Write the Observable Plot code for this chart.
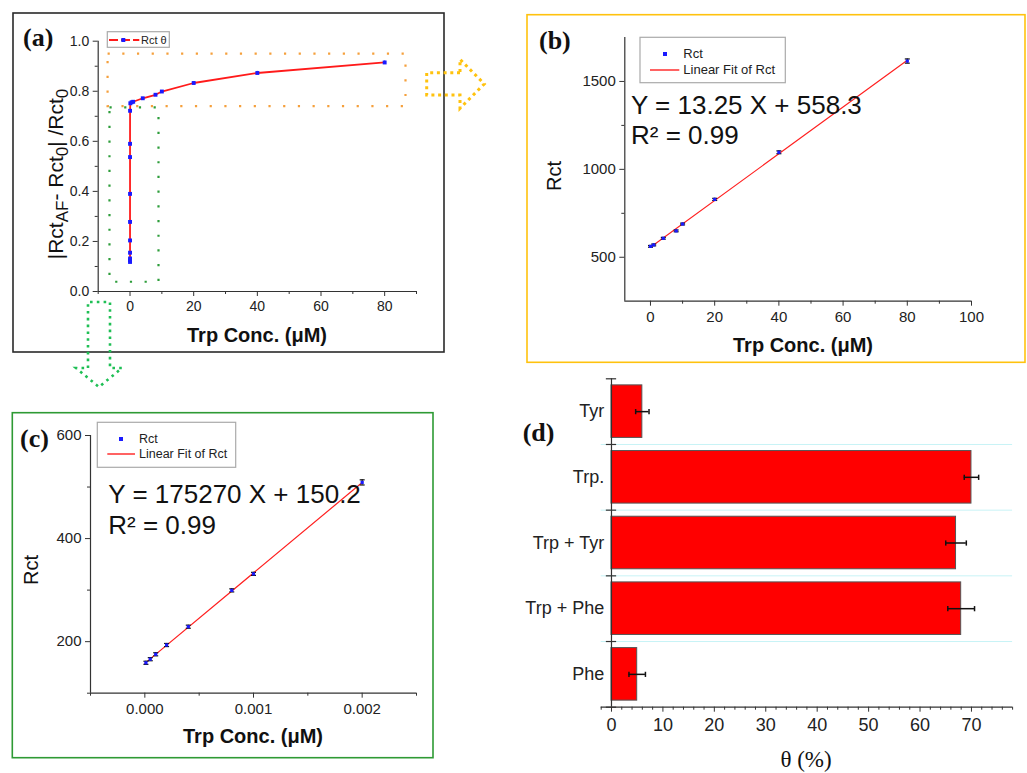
<!DOCTYPE html>
<html><head><meta charset="utf-8">
<script src="https://cdn.jsdelivr.net/npm/d3@7"></script>
<script src="https://cdn.jsdelivr.net/npm/@observablehq/plot@0.6"></script>
<style>
html,body{margin:0;padding:0;background:#fff;}
#root{position:relative;width:1027px;height:773px;overflow:hidden;font-family:"Liberation Sans",Arial,sans-serif;}
#root svg{position:absolute;}
</style></head><body><div id="root"></div>
<script>
// ---------- Panel (a): theta vs Trp concentration ----------
const aConc  = [0.00001,0.00002,0.00005,0.0001,0.0002,0.0004,0.0008,0.001,0.002,0.01,0.1,0.5,1,4,8,10,20,40,80];
const aTheta = [0.118,0.125,0.132,0.155,0.204,0.278,0.39,0.537,0.59,0.722,0.752,0.756,0.758,0.772,0.786,0.799,0.833,0.873,0.915];
const aErr   = [0.003,0.003,0.003,0.003,0.003,0.003,0.003,0.003,0.003,0.003,0.003,0.003,0.003,0.003,0.004,0.004,0.005,0.007,0.008];
const aXTicks = [0,20,40,60,80];
const aXMinor = [-10,10,30,50,70,90];
const aYTicks = [0,0.2,0.4,0.6,0.8,1.0];
const aYMinor = [0.1,0.3,0.5,0.7,0.9];
// zoom-region annotations (data coordinates)
const aOrangeBox = {x1:-6.9, x2:86.7, y1:0.739, y2:0.948};
const aGreenBox  = {x1:-6.3, x2:9.1,  y1:0.037, y2:0.734};

// ---------- Panel (b): Rct vs Trp (0-80 µM) ----------
const bConc = [0,1,4,8,10,20,40,80];
const bRct  = [562,570,608,650,689,829,1097,1616];
const bErr  = [5,5,5,5,5,6,8,12];
const bEquation = "Y = 13.25 X + 558.3";
const bR2 = "R² = 0.99";
const bXTicks = [0,20,40,60,80,100];
const bXMinor = [10,30,50,70,90];
const bYTicks = [500,1000,1500];
const bYMinor = [750,1250];

// ---------- Panel (c): Rct vs Trp (low conc.) ----------
const cConc = [0.00001,0.00005,0.0001,0.0002,0.0004,0.0008,0.001,0.002];
const cRct  = [159,166,175.5,193.5,229,299.5,331.5,509];
const cErr  = [3,3,3,3,3,3,3,5];
const cEquation = "Y = 175270 X + 150.2";
const cR2 = "R² = 0.99";
const cXTicks = [0,0.001,0.002];
const cXMinor = [-0.0005,0.0005,0.0015,0.0025];
const cYTicks = [200,400,600];
const cYMinor = [100,300,500];

// ---------- Panel (d): selectivity ----------
const dCats = ["Tyr","Trp.","Trp + Tyr","Trp + Phe","Phe"];
const dVals = [6,70,67,68,5];
const dErr  = [1.3,1.4,2.0,2.6,1.6];
const dXTicks = [0,10,20,30,40,50,60,70];
const dXMinor = d3.range(-2,80,2).filter(v => v % 10 !== 0);

// ---------- helpers ----------
const root = document.getElementById("root");
const FONT = "'Liberation Sans', Arial, sans-serif";
const SERIF = "'Liberation Serif', 'Times New Roman', serif";
const AX = "#333";
const hCap = {draw(ctx, size){const r=Math.sqrt(size/Math.PI); ctx.moveTo(-r,0); ctx.lineTo(r,0);}};
const vCap = {draw(ctx, size){const r=Math.sqrt(size/Math.PI); ctx.moveTo(0,-r); ctx.lineTo(0,r);}};
const baseStyle = {fontFamily: FONT, color: "#222", background: "transparent", overflow: "visible"};

// least-squares linear fit of the data ("Linear Fit of Rct")
function linFit(xs, ys) {
  const mx = d3.mean(xs), my = d3.mean(ys);
  const sxy = d3.sum(xs, (x,i) => (x-mx)*(ys[i]-my));
  const sxx = d3.sum(xs, x => (x-mx)*(x-mx));
  const k = sxy/sxx, b = my - k*mx;
  const ext = d3.extent(xs);
  return [{x: Math.min(0, ext[0]), y: k*Math.min(0, ext[0]) + b}, {x: ext[1], y: k*ext[1] + b}];
}

function linAxes(xd, yd, xT, xM, yT, yM, xf, yf, fs) {
  return [
    Plot.ruleX([xd[0]], {stroke: AX, strokeWidth: 1.2}),
    Plot.ruleY([yd[0]], {stroke: AX, strokeWidth: 1.2}),
    Plot.axisX({ticks: xT, tickSize: 5, tickPadding: 5, tickFormat: xf, fontSize: fs, label: null, stroke: AX}),
    Plot.axisX({ticks: xM, tickSize: 3, tickFormat: () => "", label: null, stroke: AX}),
    Plot.axisY({ticks: yT, tickSize: 5, tickPadding: 4, tickFormat: yf, fontSize: fs, label: null, stroke: AX}),
    Plot.axisY({ticks: yM, tickSize: 3, tickFormat: () => "", label: null, stroke: AX})
  ];
}
function place(svg, left, top) { svg.style.left = left + "px"; svg.style.top = top + "px"; root.appendChild(svg); }

// ---------- (a) ----------
const aData = aConc.map((x,i) => ({x, y: aTheta[i], e: aErr[i]}));
place(Plot.plot({
  width: 431, height: 339, marginLeft: 84.7, marginRight: 28, marginTop: 27.7, marginBottom: 61,
  x: {domain: [-10, 90]}, y: {domain: [0, 1]}, style: baseStyle,
  marks: [
    Plot.rect([aOrangeBox], {x1:"x1", x2:"x2", y1:"y1", y2:"y2", fill:"none", stroke:"#f5a03c", strokeWidth:2.2, strokeDasharray:"2.2,12.5"}),
    Plot.rect([aGreenBox], {x1:"x1", x2:"x2", y1:"y1", y2:"y2", fill:"none", stroke:"#2d9d3a", strokeWidth:2.2, strokeDasharray:"2.2,12.5"}),
    ...linAxes([-10,90],[0,1],aXTicks,aXMinor,aYTicks,aYMinor,d3.format("d"),d3.format(".1f"),14),
    Plot.ruleX(aData, {x:"x", y1: d=>d.y-d.e, y2: d=>d.y+d.e, stroke:"#8fa2ff", strokeWidth:1.2}),
    Plot.line(aData, {x:"x", y:"y", stroke:"#ff1a1a", strokeWidth:1.8}),
    Plot.dot(aData, {x:"x", y:"y", symbol:"square", r:2.2, fill:"#1a1aff"})
  ]
}), 13, 13);

// ---------- (b) ----------
const bData = bConc.map((x,i) => ({x, y: bRct[i], e: bErr[i]}));
const bFit = linFit(bConc, bRct);
place(Plot.plot({
  width: 498, height: 347, marginLeft: 97.3, marginRight: 54, marginTop: 22, marginBottom: 61.3,
  x: {domain: [-8, 100]}, y: {domain: [250, 1750]}, style: baseStyle,
  marks: [
    ...linAxes([-8,100],[250,1750],bXTicks,bXMinor,bYTicks,bYMinor,d3.format("d"),d3.format("d"),15),
    Plot.line(bFit, {x:"x", y:"y", stroke:"#ff2020", strokeWidth:1.2}),
    Plot.ruleX(bData, {x:"x", y1: d=>d.y-d.e, y2: d=>d.y+d.e, stroke:"#111", strokeWidth:1.2}),
    Plot.dot(bData, {x:"x", y: d=>d.y+d.e, symbol:hCap, r:2.5, fill:"none", stroke:"#111", strokeWidth:1.2}),
    Plot.dot(bData, {x:"x", y: d=>d.y-d.e, symbol:hCap, r:2.5, fill:"none", stroke:"#111", strokeWidth:1.2}),
    Plot.dot(bData, {x:"x", y:"y", symbol:"square", r:1.8, fill:"#1a1aff"})
  ]
}), 527, 15);

// ---------- (c) ----------
const cData = cConc.map((x,i) => ({x, y: cRct[i], e: cErr[i]}));
const cFit = linFit(cConc, cRct);
place(Plot.plot({
  width: 421, height: 345, marginLeft: 78, marginRight: 17, marginTop: 22, marginBottom: 65.3,
  x: {domain: [-0.0005, 0.0025]}, y: {domain: [100, 600]}, style: baseStyle,
  marks: [
    ...linAxes([-0.0005,0.0025],[100,600],cXTicks,cXMinor,cYTicks,cYMinor,d3.format(".3f"),d3.format("d"),15),
    Plot.line(cFit, {x:"x", y:"y", stroke:"#ff2020", strokeWidth:1.2}),
    Plot.ruleX(cData, {x:"x", y1: d=>d.y-d.e, y2: d=>d.y+d.e, stroke:"#111", strokeWidth:1.2}),
    Plot.dot(cData, {x:"x", y: d=>d.y+d.e, symbol:hCap, r:2.5, fill:"none", stroke:"#111", strokeWidth:1.2}),
    Plot.dot(cData, {x:"x", y: d=>d.y-d.e, symbol:hCap, r:2.5, fill:"none", stroke:"#111", strokeWidth:1.2}),
    Plot.dot(cData, {x:"x", y:"y", symbol:"square", r:1.8, fill:"#1a1aff"})
  ]
}), 12, 413);

// ---------- (d) ----------
const dData = dCats.map((c,i) => ({i, c, v: dVals[i], e: dErr[i]}));
const dBounds = d3.range(dCats.length + 1).map(k => k - 0.5);
place(Plot.plot({
  width: 522, height: 403, marginLeft: 95.7, marginRight: 14.9, marginTop: 8.3, marginBottom: 66.3,
  x: {domain: [-2, 78]}, y: {domain: [dCats.length - 0.5, -0.5]}, style: baseStyle,
  marks: [
    Plot.ruleY(dBounds.slice(1, -1), {stroke:"#c8f3f6", strokeWidth:1}),
    Plot.rect(dData, {x1: () => 0, x2:"v", y1: d=>d.i-0.4, y2: d=>d.i+0.4, fill:"#ff0000", stroke:"#555", strokeWidth:1}),
    Plot.ruleY(dData, {y:"i", x1: d=>d.v-d.e, x2: d=>d.v+d.e, stroke:"#111", strokeWidth:1.5}),
    Plot.dot(dData, {x: d=>d.v-d.e, y:"i", symbol:vCap, r:2.6, fill:"none", stroke:"#111", strokeWidth:1.5}),
    Plot.dot(dData, {x: d=>d.v+d.e, y:"i", symbol:vCap, r:2.6, fill:"none", stroke:"#111", strokeWidth:1.5}),
    Plot.ruleX([0], {stroke: AX, strokeWidth: 1.2}),
    Plot.ruleY([dCats.length - 0.5], {stroke: AX, strokeWidth: 1.2}),
    Plot.ruleY(dBounds, {x1: -1, x2: 1, stroke: AX, strokeWidth: 1.2}),
    Plot.axisX({ticks: dXTicks, tickSize: 5, tickPadding: 6, tickFormat: d3.format("d"), fontSize: 18, label: null, stroke: AX}),
    Plot.axisX({ticks: dXMinor, tickSize: 3, tickFormat: () => "", label: null, stroke: AX}),
    Plot.axisY({ticks: d3.range(dCats.length), tickSize: 0, tickPadding: 5, dx: 8, tickFormat: i => dCats[i], fontSize: 18, label: null})
  ]
}), 505, 370);

// ---------- overlay: frames, arrows, titles, legends, equations ----------
const ov = d3.create("svg").attr("width", 1027).attr("height", 773)
  .style("left", "0px").style("top", "0px").style("pointer-events", "none");

function box(x, y, w, h, stroke) {
  ov.append("rect").attr("x", x).attr("y", y).attr("width", w).attr("height", h)
    .attr("fill", "none").attr("stroke", stroke).attr("stroke-width", 1.6);
}
box(13, 13, 431, 339, "#2a2a2a");
box(527, 14.7, 498, 347.6, "#ffc20e");
box(12.3, 412.7, 420.7, 345, "#2e9a34");

ov.append("path").attr("d", "M88,368 L88,302 L110,302 L110,368 L122,368 L99,387 L76,368 Z")
  .attr("fill", "none").attr("stroke", "#1fbf55").attr("stroke-width", 2.6).attr("stroke-dasharray", "2.6,4.2");
ov.append("path").attr("d", "M460,72.7 L426.7,72.7 L426.7,95 L460,95 L460,108.3 L484.3,84 L460,59.3 Z")
  .attr("fill", "none").attr("stroke", "#ffc20e").attr("stroke-width", 3).attr("stroke-dasharray", "3,3.7");

function txt(x, y, s, o = {}) {
  const t = ov.append("text").attr("x", x).attr("y", y).text(s)
    .attr("font-family", o.family || FONT).attr("font-size", o.size || 14)
    .attr("font-weight", o.weight || "normal").attr("fill", o.fill || "#111")
    .attr("text-anchor", o.anchor || "start");
  if (o.rotate) t.attr("transform", `rotate(${o.rotate},${x},${y})`);
  return t;
}
// panel letters
txt(23, 46, "(a)", {family: SERIF, size: 26, weight: "bold"});
txt(539, 48.5, "(b)", {family: SERIF, size: 26, weight: "bold"});
txt(20, 447, "(c)", {family: SERIF, size: 26, weight: "bold"});
txt(522.7, 441, "(d)", {family: SERIF, size: 26, weight: "bold"});

// axis titles
txt(257, 342, "Trp Conc. (μM)", {size: 20, weight: "bold", anchor: "middle"});
txt(803, 352, "Trp Conc. (μM)", {size: 20, weight: "bold", anchor: "middle"});
txt(253, 743, "Trp Conc. (μM)", {size: 20, weight: "bold", anchor: "middle"});
txt(806, 767, "θ (%)", {family: SERIF, size: 23, anchor: "middle"});
txt(561, 176, "Rct", {size: 20, anchor: "middle", rotate: -90});
txt(38, 570, "Rct", {size: 20, anchor: "middle", rotate: -90});

// (a) y title with subscripts
{
  const t = ov.append("text").attr("x", 0).attr("y", 0)
    .attr("transform", "translate(63,174) rotate(-90)")
    .attr("font-family", FONT).attr("font-size", 21).attr("fill", "#111").attr("text-anchor", "middle");
  const parts = [["|Rct",0],["AF",1],["- Rct",0],["0",1],["| /Rct",0],["0",1]];
  let prev = 0;
  parts.forEach(([s, sub]) => {
    const dy = (sub ? 5 : 0) - prev; prev = sub ? 5 : 0;
    t.append("tspan").attr("dy", dy).attr("font-size", sub ? 17 : 21).text(s);
  });
}

// equations
txt(631, 114.3, bEquation, {size: 26});
txt(631, 143.5, bR2, {size: 26});
txt(108.3, 502.7, cEquation, {size: 26});
txt(108.3, 534, cR2, {size: 26});

// legends
function legend2(x, y, w, h, sqx, sqy, tx, ty1, ty2, lx1, lx2, ly, fs) {
  ov.append("rect").attr("x", x).attr("y", y).attr("width", w).attr("height", h)
    .attr("fill", "#fff").attr("stroke", "#aaa").attr("stroke-width", 1.2);
  ov.append("rect").attr("x", sqx - 2).attr("y", sqy - 2).attr("width", 4).attr("height", 4).attr("fill", "#1a1aff");
  txt(tx, ty1, "Rct", {size: fs, fill: "#222"});
  ov.append("line").attr("x1", lx1).attr("x2", lx2).attr("y1", ly).attr("y2", ly).attr("stroke", "#ff2020").attr("stroke-width", 1.4);
  txt(tx, ty2, "Linear Fit of Rct", {size: fs, fill: "#222"});
}
legend2(640, 37.3, 145.3, 45.4, 665, 54, 683.3, 58.3, 74.3, 650, 679.3, 70, 13);
legend2(97.3, 422.3, 138.4, 45, 121, 439, 139, 443.3, 458.3, 107.3, 135, 454, 12.5);

// (a) legend
ov.append("rect").attr("x", 107.3).attr("y", 31.7).attr("width", 62).attr("height", 15.6)
  .attr("fill", "#fff").attr("stroke", "#aaa").attr("stroke-width", 1.2);
ov.append("line").attr("x1", 109).attr("x2", 139.3).attr("y1", 40).attr("y2", 40)
  .attr("stroke", "#ff1a1a").attr("stroke-width", 1.8).attr("stroke-dasharray", "9,3");
ov.append("rect").attr("x", 121.3).attr("y", 38).attr("width", 4).attr("height", 4).attr("fill", "#1a1aff");
txt(141, 44.3, "Rct θ", {size: 11, fill: "#222"});

root.appendChild(ov.node());
</script></body></html>
